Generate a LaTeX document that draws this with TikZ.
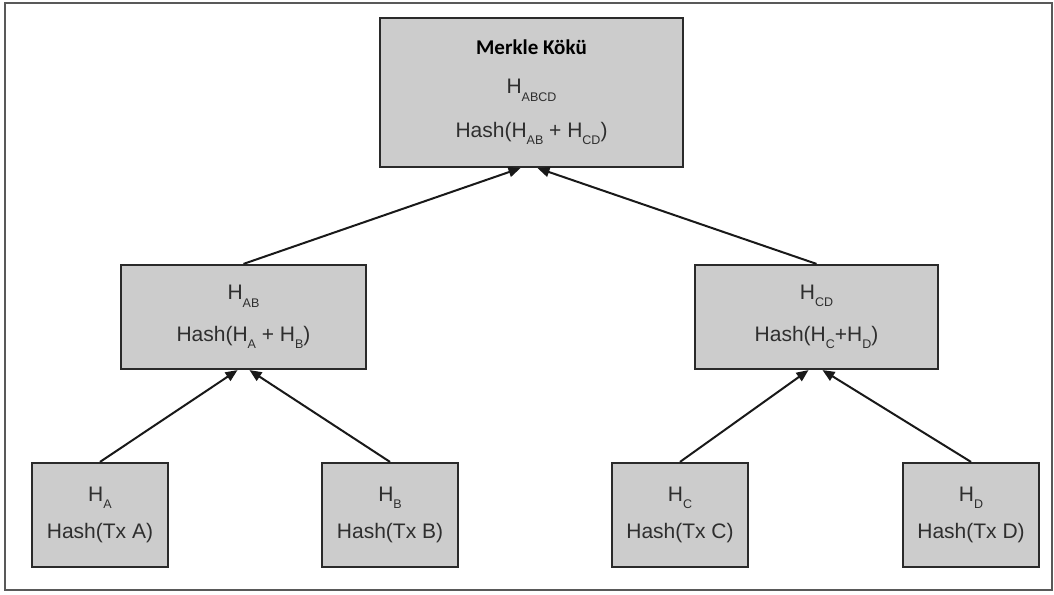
\documentclass[tikz,border=0pt]{standalone}
\usepackage{fontspec}
\setmainfont{Liberation Sans}
\newfontfamily\titlefont{Carlito}
\usetikzlibrary{arrows.meta}
\definecolor{boxfill}{HTML}{CCCCCC}
\definecolor{boxline}{HTML}{2A2A2A}
\definecolor{txt}{HTML}{2E2E2E}
\newcommand{\sbs}[1]{\raisebox{-0.65ex}{\fontsize{12.5}{12.5}\selectfont #1}}
\tikzset{
  hbox/.style={draw=boxline, fill=boxfill, line width=2.2pt, align=center, text=txt, font=\fontsize{21}{21}\selectfont, inner sep=0pt},
  conn/.style={line width=2pt, draw=black!90, -{Triangle[length=12pt,width=10pt]}}
}
\begin{document}
\begin{tikzpicture}[x=1pt,y=-1pt]
\useasboundingbox (0,0) rectangle (1054,594);
\draw[draw=black!65, line width=1.5pt] (5,3) rectangle (1052,590);
\node[hbox, minimum width=303pt, minimum height=149pt] (root) at (531.5,92.5)
  {{\titlefont\bfseries\fontsize{21}{21}\selectfont\color{black}Merkle Kökü}\\[18pt]H\sbs{ABCD}\\[20pt]Hash(H\sbs{AB} + H\sbs{CD})};
\node[hbox, minimum width=245pt, minimum height=104pt] (ab) at (243.5,317)
  {H\sbs{AB}\\[18pt]Hash(H\sbs{A} + H\sbs{B})};
\node[hbox, minimum width=243pt, minimum height=104pt] (cd) at (816.5,317)
  {H\sbs{CD}\\[18pt]Hash(H\sbs{C}+H\sbs{D})};
\node[hbox, minimum width=136pt, minimum height=104pt] (a) at (100,515)
  {H\sbs{A}\\[14pt]Hash(Tx A)};
\node[hbox, minimum width=136pt, minimum height=104pt] (b) at (390,515)
  {H\sbs{B}\\[14pt]Hash(Tx B)};
\node[hbox, minimum width=136pt, minimum height=104pt] (c) at (680,515)
  {H\sbs{C}\\[14pt]Hash(Tx C)};
\node[hbox, minimum width=136pt, minimum height=104pt] (d) at (971,515)
  {H\sbs{D}\\[14pt]Hash(Tx D)};
\draw[conn] (a.north) -- ([xshift=-6pt]ab.south);
\draw[conn] (b.north) -- ([xshift=6pt]ab.south);
\draw[conn] (c.north) -- ([xshift=-8pt]cd.south);
\draw[conn] (d.north) -- ([xshift=6pt]cd.south);
\draw[conn] (ab.north) -- ([xshift=-11pt]root.south);
\draw[conn] (cd.north) -- ([xshift=6pt]root.south);
\end{tikzpicture}
\end{document}
